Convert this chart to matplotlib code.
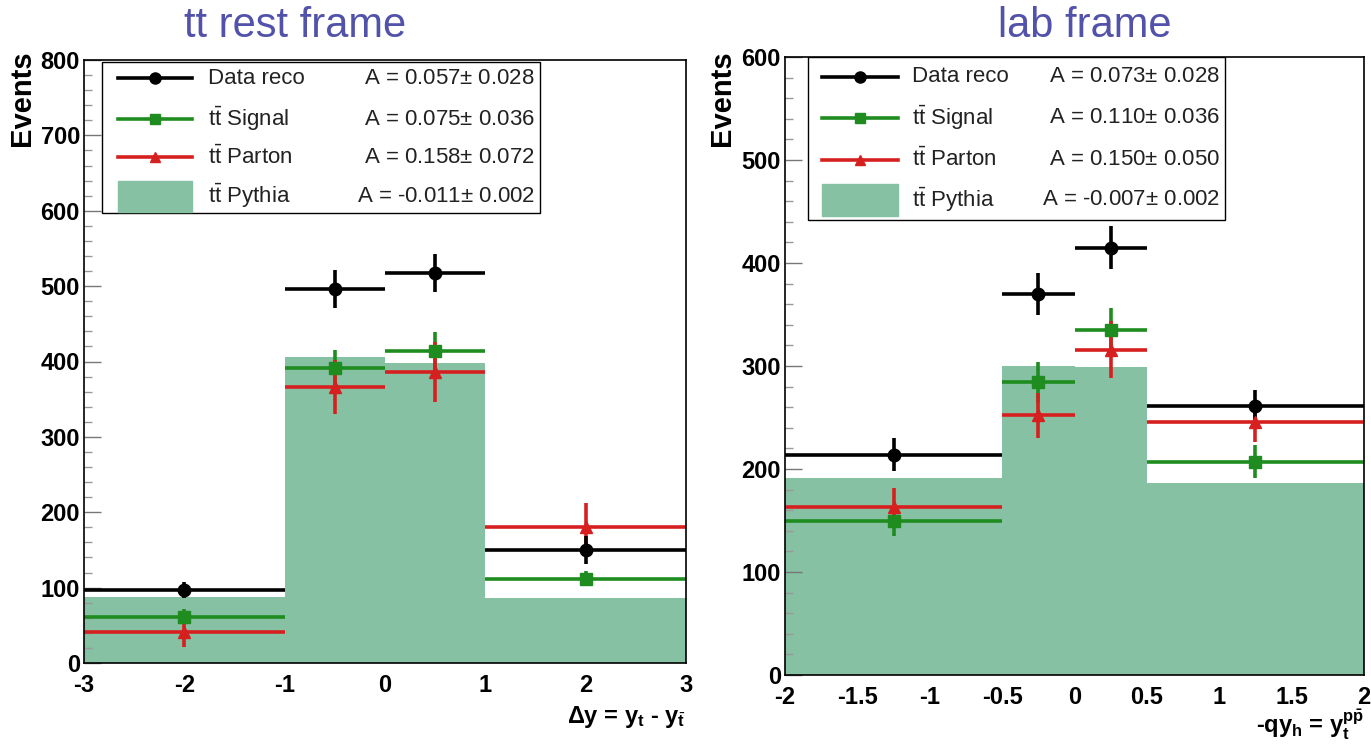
import matplotlib.pyplot as plt
import numpy as np
from matplotlib.lines import Line2D
from matplotlib.patches import Rectangle
from matplotlib.ticker import MultipleLocator

plt.rcParams['font.family'] = ['Liberation Sans', 'DejaVu Sans']
plt.rcParams['mathtext.fontset'] = 'custom'
plt.rcParams['mathtext.rm'] = 'Liberation Sans'
plt.rcParams['mathtext.bf'] = 'Liberation Sans:bold'
plt.rcParams['mathtext.it'] = 'Liberation Sans:italic'

# tt rest frame, binned in delta y
dy_edges = [-3, -1, 0, 1, 3]
dy_data = [97, 496, 517, 150]
dy_data_err = [11, 25, 25, 18]
dy_signal = [61, 391, 414, 112]
dy_signal_err = [10, 24, 25, 10]
dy_parton = [41, 366, 386, 180]
dy_parton_err = [20, 36, 40, 32]
dy_pythia = [88, 406, 398, 86]
dy_asym = ['0.057', '0.075', '0.158', '-0.011']
dy_asym_err = ['0.028', '0.036', '0.072', '0.002']

# lab frame, binned in -q*y_h
lab_edges = [-2, -0.5, 0, 0.5, 2]
lab_data = [214, 370, 415, 261]
lab_data_err = [16, 20, 21, 16]
lab_signal = [150, 284, 335, 207]
lab_signal_err = [15, 20, 21, 16]
lab_parton = [163, 252, 316, 246]
lab_parton_err = [19, 22, 28, 20]
lab_pythia = [191, 300, 299, 186]
lab_asym = ['0.073', '0.110', '0.150', '-0.007']
lab_asym_err = ['0.028', '0.036', '0.050', '0.002']

names = ['Data reco', r't$\bar{\rm t}$ Signal', r't$\bar{\rm t}$ Parton', r't$\bar{\rm t}$ Pythia']

BLACK = 'black'
GREEN = '#1f8c1f'
RED = '#d62020'
FILL = '#85c1a2'


def draw_hists(ax, edges, data, data_err, signal, signal_err, parton, parton_err, pythia):
    edges = np.array(edges, dtype=float)
    centers = 0.5 * (edges[1:] + edges[:-1])
    halfw = 0.5 * (edges[1:] - edges[:-1])
    ax.stairs(pythia, edges, fill=True, color=FILL, zorder=1)
    for vals, errs, col, mk, ms in [(signal, signal_err, GREEN, 's', 8),
                                    (parton, parton_err, RED, '^', 8),
                                    (data, data_err, BLACK, 'o', 9)]:
        ax.errorbar(centers, vals, xerr=halfw, yerr=errs, fmt=mk, color=col,
                    ms=ms, elinewidth=2.6, capsize=0, zorder=3)


def draw_legend(ax, box, rows, x_line, x_label, x_val, asym, asym_err):
    x0, y0, x1, y1 = box
    ax.add_patch(Rectangle((x0, y0), x1 - x0, y1 - y0, transform=ax.transAxes,
                           facecolor='white', edgecolor='black', lw=1.0, zorder=5))
    styles = [(BLACK, 'o', 8), (GREEN, 's', 7), (RED, '^', 7)]
    for i, y in enumerate(rows):
        if i < 3:
            col, mk, ms = styles[i]
            ax.add_line(Line2D(x_line, [y, y], transform=ax.transAxes, color=col,
                               lw=2.6, zorder=6))
            ax.add_line(Line2D([np.mean(x_line)], [y], transform=ax.transAxes, color=col,
                               marker=mk, ms=ms, zorder=6))
        else:
            ax.add_patch(Rectangle((x_line[0], y - 0.026), x_line[1] - x_line[0], 0.052,
                                   transform=ax.transAxes, color=FILL, zorder=6))
        ax.text(x_label, y, names[i], transform=ax.transAxes, fontsize=16,
                va='center', ha='left', color='#222222', zorder=7)
        ax.text(x_val, y, f'A = {asym[i]}$\\pm$ {asym_err[i]}', transform=ax.transAxes,
                fontsize=16, va='center', ha='right', color='#222222', zorder=7)


def style_axes(ax, xlim, ylim, xticks, xticklabels):
    ax.set_xlim(*xlim)
    ax.set_ylim(*ylim)
    ax.yaxis.set_major_locator(MultipleLocator(100))
    ax.yaxis.set_minor_locator(MultipleLocator(20))
    ax.set_xticks(xticks)
    ax.set_xticklabels(xticklabels)
    ax.tick_params(axis='y', which='major', direction='in', length=12, width=1,
                   color='#777777', labelsize=17, pad=3)
    ax.tick_params(axis='y', which='minor', direction='in', length=6, width=1, color='#999999')
    ax.tick_params(axis='x', which='both', length=0, labelsize=17, pad=8)
    for lab in ax.get_xticklabels() + ax.get_yticklabels():
        lab.set_fontweight('bold')
    for sp in ax.spines.values():
        sp.set_linewidth(1.2)
        sp.set_zorder(8)


fig = plt.figure(figsize=(13.71, 7.5), dpi=100)

# left: rest frame
ax1 = fig.add_axes([0.0613, 0.116, 0.439, 0.804])
draw_hists(ax1, dy_edges, dy_data, dy_data_err, dy_signal, dy_signal_err,
           dy_parton, dy_parton_err, dy_pythia)
style_axes(ax1, (-3, 3), (0, 800), [-3, -2, -1, 0, 1, 2, 3],
           ['-3', '-2', '-1', '0', '1', '2', '3'])
draw_legend(ax1, (0.030, 0.746, 0.757, 0.997), [0.970, 0.902, 0.839, 0.774],
            [0.056, 0.179], 0.206, 0.749, dy_asym, dy_asym_err)
ax1.text(1.0, -0.100, r'$\mathbf{\Delta y}$ = y$_\mathbf{t}$ - y$_{\bar{\mathbf{t}}}$',
         transform=ax1.transAxes, ha='right', va='baseline', fontsize=17, fontweight='bold')

# right: lab frame
ax2 = fig.add_axes([0.5726, 0.1, 0.4223, 0.824])
draw_hists(ax2, lab_edges, lab_data, lab_data_err, lab_signal, lab_signal_err,
           lab_parton, lab_parton_err, lab_pythia)
style_axes(ax2, (-2, 2), (0, 600), [-2, -1.5, -1, -0.5, 0, 0.5, 1, 1.5, 2],
           ['-2', '-1.5', '-1', '-0.5', '0', '0.5', '1', '1.5', '2'])
draw_legend(ax2, (0.040, 0.736, 0.760, 1.0), [0.968, 0.902, 0.834, 0.769],
            [0.064, 0.195], 0.219, 0.751, lab_asym, lab_asym_err)
ax2.text(1.0, -0.094, r'-qy$_\mathbf{h}$ = y$_\mathbf{t}^{\mathbf{p\bar{p}}}$',
         transform=ax2.transAxes, ha='right', va='baseline', fontsize=17, fontweight='bold')

# y titles and frame titles
fig.text(22 / 1371, 1 - 50 / 750, 'Events', rotation=90, ha='center', va='top',
         fontsize=21, fontweight='bold')
fig.text(722 / 1371, 1 - 50 / 750, 'Events', rotation=90, ha='center', va='top',
         fontsize=21, fontweight='bold')
fig.text(295 / 1371, 1 - 26 / 750, 'tt rest frame', ha='center', va='center',
         fontsize=30, color='#5252aa')
fig.text(1085 / 1371, 1 - 26 / 750, 'lab frame', ha='center', va='center',
         fontsize=30, color='#5252aa')

fig.savefig('out.png', dpi=100)
